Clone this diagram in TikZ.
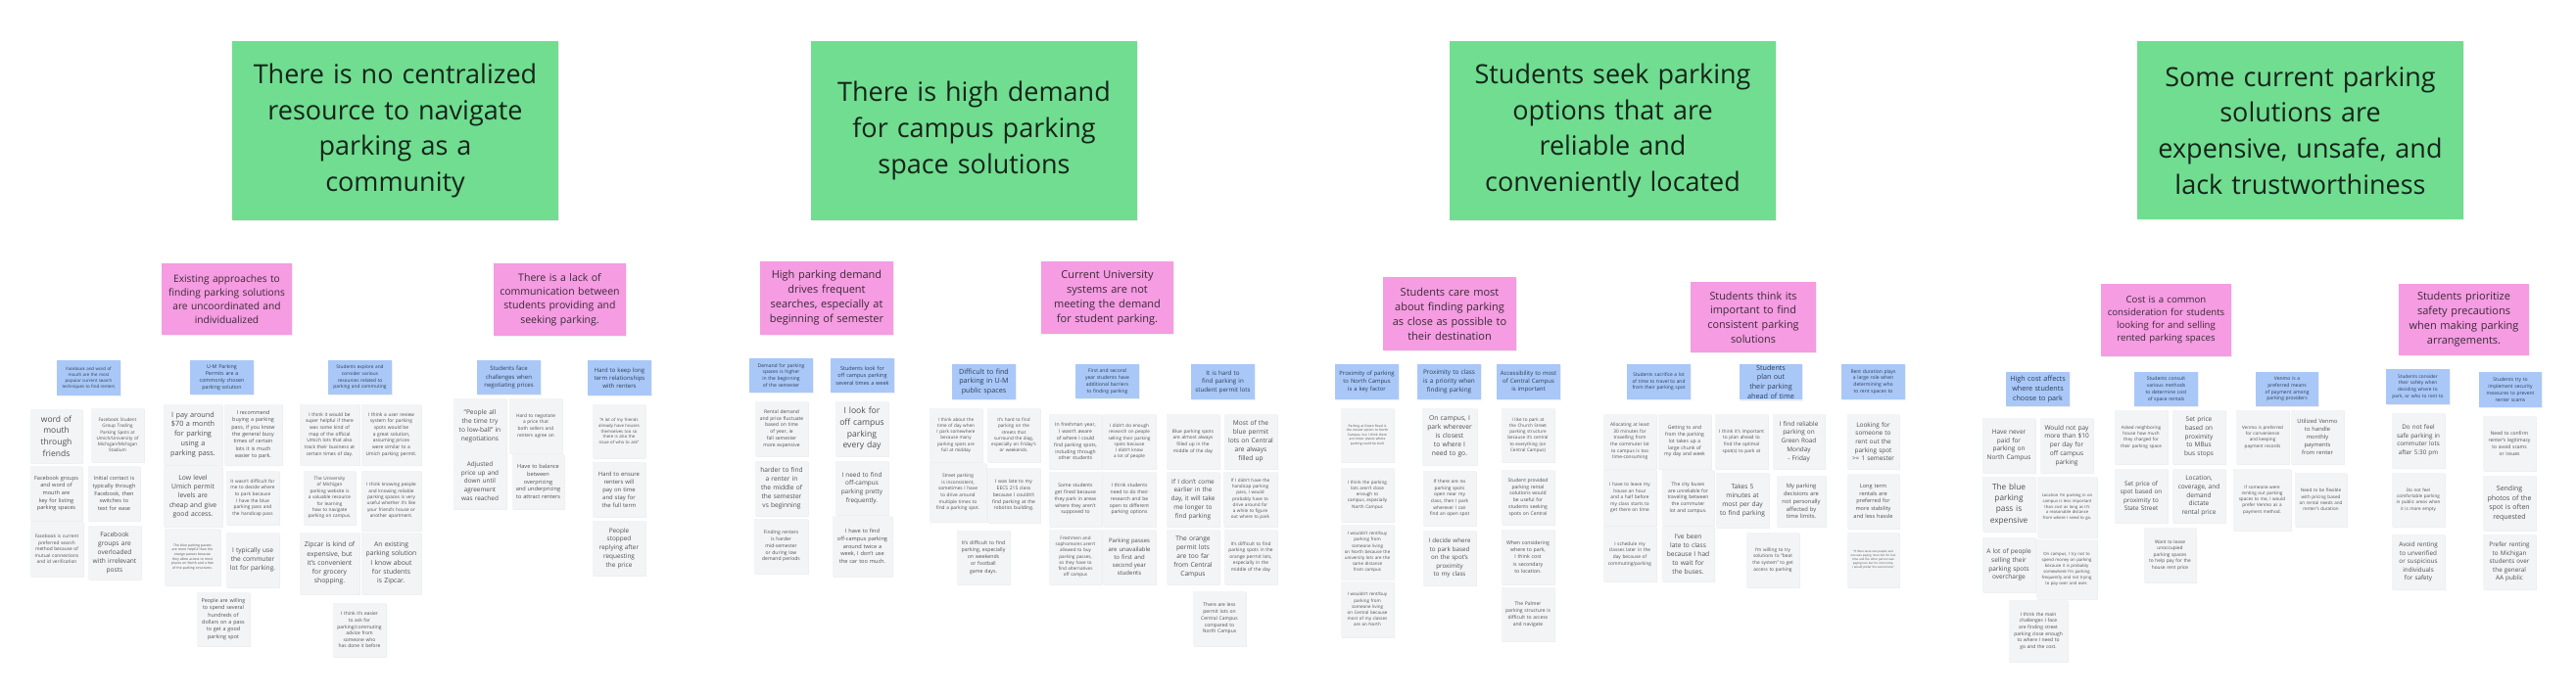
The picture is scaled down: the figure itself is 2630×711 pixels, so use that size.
\documentclass[tikz,border=0pt]{standalone}
\usepackage{fontspec}
\setmainfont{Open Sans}
\usetikzlibrary{shadows}
\definecolor{hgreen}{HTML}{70DD90}
\definecolor{hpink}{HTML}{F59CE2}
\definecolor{hblue}{HTML}{A9C8F7}
\definecolor{notegray}{HTML}{F3F4F6}
\definecolor{notetext}{HTML}{505050}
\definecolor{bluetext}{HTML}{2F3D57}
\definecolor{pinktext}{HTML}{3A2A36}
\definecolor{greentext}{HTML}{15241A}
\hyphenpenalty=10000
\exhyphenpenalty=10000
\newcommand\fz[1]{\fontsize{#1}{\fpeval{round(1.36*#1,2)}}\selectfont}
\tikzset{
  sticky/.style={draw=none, align=center, inner xsep=3.5pt, inner ysep=1pt,
    drop shadow={shadow xshift=0.5pt, shadow yshift=-1.2pt, opacity=0.12}},
  notebox/.style={sticky, fill=notegray, text=notetext},
  bluebox/.style={sticky, fill=hblue, text=bluetext},
  pinkbox/.style={sticky, fill=hpink, text=pinktext},
  greenbox/.style={sticky, fill=hgreen, text=greentext},
}
% style, name, x1, y1, x2, y2, font size, text
\newcommand\stick[8]{%
  \node[#1, minimum width=\fpeval{#5-#3}pt, minimum height=\fpeval{#6-#4}pt,
    text width=\fpeval{#5-#3-7}pt, font=\fz{#7}]
    (#2) at (\fpeval{(#3+#5)/2}pt,\fpeval{-(#4+#6)/2}pt) {#8};}
\newcommand\nt[7]{\stick{notebox}{#1}{#2}{#3}{#4}{#5}{#6}{#7}}
\newcommand\bl[7]{\stick{bluebox}{#1}{#2}{#3}{#4}{#5}{#6}{#7}}
\begin{document}
\begin{tikzpicture}
\useasboundingbox[fill=white] (0pt,0pt) rectangle (2630pt,-711pt);

% ---------- green themes ----------
\stick{greenbox}{G1}{237}{42}{570}{225}{27}{There is no centralized\\resource to navigate\\parking as a\\community}
\stick{greenbox}{G2}{828}{42}{1161}{225}{27}{There is high demand\\for campus parking\\space solutions}
\stick{greenbox}{G3}{1480}{42}{1813}{225}{27}{Students seek parking\\options that are\\reliable and\\conveniently located}
\stick{greenbox}{G4}{2182}{42}{2515}{224}{27}{Some current parking\\solutions are\\expensive, unsafe, and\\lack trustworthiness}

% ---------- pink sub-themes ----------
\stick{pinkbox}{P1}{165}{269}{298}{342}{10.2}{Existing approaches to\\finding parking solutions\\are uncoordinated and\\individualized}
\stick{pinkbox}{P2}{504}{269}{639}{343}{10.5}{There is a lack of\\communication between\\students providing and\\seeking parking.}
\stick{pinkbox}{P3}{776}{267}{912}{342}{11}{High parking demand\\drives frequent\\searches, especially at\\beginning of semester}
\stick{pinkbox}{P4}{1063}{267}{1198}{341}{11}{Current University\\systems are not\\meeting the demand\\for student parking.}
\stick{pinkbox}{P5}{1412}{283}{1548}{358}{11}{Students care most\\about finding parking\\as close as possible to\\their destination}
\stick{pinkbox}{P6}{1726}{288}{1854}{360}{10.8}{Students think its\\important to find\\consistent parking\\solutions}
\stick{pinkbox}{P7}{2145}{290}{2278}{364}{9.6}{Cost is a common\\consideration for students\\looking for and selling\\rented parking spaces}
\stick{pinkbox}{P8}{2449}{290}{2582}{363}{11}{Students prioritize\\safety precautions\\when making parking\\arrangements.}

% ---------- blue clusters ----------
\bl{B1}{58}{368}{123}{404}{4.4}{Facebook and word of mouth are the most popular current search techniques to find renters}
\bl{B2}{194}{368}{259}{403}{5.3}{U-M Parking Permits are a commonly chosen parking solution}
\bl{B3}{335}{368}{400}{403}{4.8}{Students explore and consider various resources related to parking and commuting}
\bl{B4}{487}{368}{552}{403}{6}{Students face challenges when negotiating prices}
\bl{B5}{600}{368}{665}{404}{6}{Hard to keep long term relationships with renters}
\bl{B6}{765}{366}{830}{401}{5}{Demand for parking spaces is higher in the beginning of the semester}
\bl{B7}{848}{366}{913}{401}{5.5}{Students look for off campus parking several times a week}
\bl{B8}{972}{372}{1037}{408}{7.2}{Difficult to find parking in U-M public spaces}
\bl{B9}{1098}{372}{1163}{407}{5}{First and second year students have additional barriers to finding parking}
\bl{B10}{1216}{372}{1281}{408}{6.2}{It is hard to find parking in student permit lots}
\bl{B11}{1363}{372}{1428}{408}{5.9}{Proximity of parking to North Campus is a key factor}
\bl{B12}{1447}{372}{1512}{408}{6.4}{Proximity to class is a priority when finding parking}
\bl{B13}{1528}{372}{1593}{408}{6}{Accessibility to most of Central Campus is important}
\bl{B14}{1661}{372}{1726}{408}{4.9}{Students sacrifice a lot of time to travel to and from their parking spot}
\bl{B15}{1776}{372}{1840}{408}{7.2}{Students plan out their parking ahead of time}
\bl{B16}{1880}{372}{1945}{408}{5}{Rent duration plays a large role when determining who to rent spaces to}
\bl{B17}{2048}{380}{2113}{415}{7.2}{High cost affects where students choose to park}
\bl{B18}{2179}{380}{2244}{415}{5}{Students consult various methods to determine cost of space rentals}
\bl{B19}{2303}{380}{2367}{415}{5}{Venmo is a preferred means of payment among parking providers}
\bl{B20}{2436}{377}{2501}{413}{4.8}{Students consider their safety when deciding where to park, or who to rent to}
\bl{B21}{2531}{380}{2595}{416}{5}{Students try to implement security measures to prevent renter scams}

% ---------- notes ----------
\nt{a1}{31}{418}{84}{473}{8.5}{word of mouth through friends}
\nt{a2}{93}{417}{147}{472}{4.6}{Facebook Student Group Trading Parking Spots at Umich/University of Michigan/Michigan Stadium}
\nt{a3}{31}{476}{84}{532}{5.6}{Facebook groups and word of mouth are key for listing parking spaces}
\nt{a4}{90}{476}{143}{532}{5.6}{Initial contact is typically through Facebook, then switches to text for ease}
\nt{a5}{31}{533}{85}{589}{4.8}{Facebook is current preferred search method because of mutual connections and id verification}
\nt{a6}{90}{537}{144}{592}{6.6}{Facebook groups are overloaded with irrelevant posts}

\nt{b1}{167}{413}{227}{475}{7.3}{I pay around \$70 a month for parking using a parking pass.}
\nt{b2}{229}{413}{288}{475}{5.4}{I recommend buying a parking pass, if you know the general busy times of certain lots it is much easier to park.}
\nt{b3}{167}{476}{227}{538}{6.8}{Low level Umich permit levels are cheap and give good access.}
\nt{b4}{231}{481}{285}{536}{4.8}{It wasn't difficult for me to decide where to park because I have the blue parking pass and the handicap pass}
\nt{b5}{168}{540}{225}{598}{3.4}{The blue parking passes are more helpful than the orange passes because they allow access to most places on North and a few of the parking structures.}
\nt{b6}{231}{544}{285}{600}{6.6}{I typically use the commuter lot for parking.}
\nt{b7}{201}{605}{255}{660}{5.4}{People are willing to spend several hundreds of dollars on a pass to get a good parking spot}

\nt{c1}{306}{413}{367}{475}{4.9}{I think it would be super helpful if there was some kind of map of the official Umich lots that also track their business at certain times of day.}
\nt{c2}{369}{413}{430}{475}{4.9}{I think a user review system for parking spots would be a great solution, assuming prices were similar to a Umich parking permit.}
\nt{c3}{310}{481}{363}{536}{4.7}{The University of Michigan parking website is a valuable resource for learning how to navigate parking on campus.}
\nt{c4}{369}{481}{430}{542}{4.7}{I think knowing people and knowing reliable parking spaces is very useful whether it's like your friend's house or another apartment.}
\nt{c5}{306}{544}{367}{607}{6.8}{Zipcar is kind of expensive, but it's convenient for grocery shopping.}
\nt{c6}{369}{544}{430}{607}{6.8}{An existing parking solution I know about for students is Zipcar.}
\nt{c7}{340}{616}{394}{671}{4.9}{I think it's easier to ask for parking/commuting advice from someone who has done it before}

\nt{d1}{463}{407}{517}{463}{6.6}{“People all the time try to low-ball” in negotiations}
\nt{d2}{520}{407}{574}{463}{4.8}{Hard to negotiate a price that both sellers and renters agree on}
\nt{d3}{463}{463}{517}{520}{6.4}{Adjusted price up and down until agreement was reached}
\nt{d4}{523}{464}{576}{520}{5.6}{Have to balance between overpricing and underpricing to attract renters}

\nt{e1}{605}{413}{659}{468}{4.3}{“A lot of my friends already have houses themselves too so there is also the issue of who to ask”}
\nt{e2}{605}{472}{659}{528}{5.9}{Hard to ensure renters will pay on time and stay for the full term}
\nt{e3}{605}{532}{659}{588}{6.4}{People stopped replying after requesting the price}

\nt{f1}{771}{410}{825}{466}{5}{Rental demand and price fluctuate based on time of year, ie fall semester more expensive}
\nt{f2}{771}{471}{825}{527}{6.6}{harder to find a renter in the middle of the semester vs beginning}
\nt{f3}{770}{530}{825}{586}{5}{Finding renters is harder mid-semester or during low demand periods}

\nt{g1}{853}{410}{907}{466}{8.6}{I look for off campus parking every day}
\nt{g2}{853}{471}{907}{526}{6.4}{I need to find off-campus parking pretty frequently.}
\nt{g3}{850}{527}{911}{589}{5.6}{I have to find off-campus parking around twice a week, I don't use the car too much.}

\nt{h1}{949}{417}{1003}{472}{4.6}{I think about the time of day when I park somewhere because many parking spots are full at midday}
\nt{h2}{1008}{417}{1062}{472}{4.6}{It's hard to find parking on the streets that surround the diag, especially on Friday's or weekends.}
\nt{h3}{949}{473}{1007}{533}{4.8}{Street parking is inconsistent, sometimes I have to drive around multiple times to find a parking spot.}
\nt{h4}{1008}{478}{1062}{534}{5}{I was late to my EECS 215 class because I couldn't find parking at the robotics building.}
\nt{h5}{977}{542}{1031}{597}{5.2}{It's difficult to find parking, especially on weekends or football game days.}

\nt{i1}{1071}{423}{1125}{479}{5}{In freshman year, I wasn't aware of where I could find parking spots, including through other students}
\nt{i2}{1126}{423}{1180}{479}{4.6}{I didn't do enough research on people selling their parking spots because I didn't know a lot of people}
\nt{i3}{1071}{482}{1125}{538}{5}{Some students get fined because they park in areas where they aren't supposed to}
\nt{i4}{1126}{482}{1180}{538}{5}{I think students need to do their research and be open to different parking options}
\nt{i5}{1071}{541}{1125}{597}{4.6}{Freshmen and sophomores aren't allowed to buy parking passes, so they have to find alternatives off campus}
\nt{i6}{1126}{541}{1180}{597}{6}{Parking passes are unavailable to first and second year students}

\nt{j1}{1191}{423}{1245}{479}{4.8}{Blue parking spots are almost always filled up in the middle of the day}
\nt{j2}{1250}{423}{1304}{479}{6.6}{Most of the blue permit lots on Central are always filled up}
\nt{j3}{1191}{482}{1245}{538}{6.4}{If I don't come earlier in the day, it will take me longer to find parking}
\nt{j4}{1249}{482}{1304}{538}{4.6}{If I didn't have the handicap parking pass, I would probably have to drive around for a while to figure out where to park}
\nt{j5}{1191}{541}{1245}{597}{6.6}{The orange permit lots are too far from Central Campus}
\nt{j6}{1250}{541}{1304}{597}{4.8}{It's difficult to find parking spots in the orange permit lots, especially in the middle of the day}
\nt{j7}{1218}{604}{1272}{660}{5}{There are less permit lots on Central Campus compared to North Campus}

\nt{k1}{1369}{417}{1423}{472}{3.3}{Parking at Green Road is the closest option to North Campus, but I think there are closer places where parking could be built}
\nt{k2}{1369}{478}{1423}{533}{4.6}{I think the parking lots aren't close enough to campus, especially North Campus}
\nt{k3}{1369}{536}{1423}{592}{4.5}{I wouldn't rent/buy parking from someone living on North because the university lots are the same distance from campus}
\nt{k4}{1369}{594}{1423}{651}{4.5}{I wouldn't rent/buy parking from someone living on Central because most of my classes are on North}

\nt{l1}{1452}{417}{1508}{475}{6.7}{On campus, I park wherever is closest to where I need to go.}
\nt{l2}{1453}{481}{1507}{537}{4.8}{If there are no parking spots open near my class, then I park wherever I can find an open spot}
\nt{l3}{1453}{542}{1507}{598}{6.2}{I decide where to park based on the spot's proximity to my class}

\nt{m1}{1533}{417}{1587}{472}{4.6}{I like to park at the Church Street parking structure because it's central to everything (on Central Campus)}
\nt{m2}{1533}{480}{1587}{536}{5}{Student provided parking rental solutions would be useful for students seeking spots on Central}
\nt{m3}{1533}{541}{1587}{597}{5.2}{When considering where to park, I think cost is secondary to location.}
\nt{m4}{1533}{600}{1587}{655}{5}{The Palmer parking structure is difficult to access and navigate}

\nt{n1}{1637}{423}{1691}{479}{4.8}{Allocating at least 30 minutes for travelling from the commuter lot to campus is too time-consuming}
\nt{n2}{1693}{423}{1747}{479}{5}{Getting to and from the parking lot takes up a large chunk of my day and week}
\nt{n3}{1637}{480}{1691}{537}{4.8}{I have to leave my house an hour and a half before my class starts to get there on time}
\nt{n4}{1697}{480}{1750}{537}{5}{The city buses are unreliable for traveling between the commuter lot and campus.}
\nt{n5}{1637}{538}{1691}{594}{4.8}{I schedule my classes later in the day because of commuting/parking}
\nt{n6}{1697}{538}{1750}{594}{6.6}{I've been late to class because I had to wait for the buses.}

\nt{o1}{1751}{423}{1805}{479}{4.8}{I think it's important to plan ahead to find the optimal spot(s) to park at}
\nt{o2}{1810}{423}{1863}{479}{6.4}{I find reliable parking on Green Road Monday - Friday}
\nt{o3}{1752}{483}{1806}{539}{6.6}{Takes 5 minutes at most per day to find parking}
\nt{o4}{1814}{486}{1864}{538}{5.8}{My parking decisions are not personally affected by time limits.}
\nt{o5}{1783}{544}{1837}{600}{4.8}{I'm willing to try solutions to “beat the system” to get access to parking}

\nt{p1}{1886}{423}{1939}{479}{6.4}{Looking for someone to rent out the parking spot >= 1 semester}
\nt{p2}{1886}{484}{1939}{540}{5.6}{Long term rentals are preferred for more stability and less hassle}
\nt{p3}{1886}{544}{1939}{600}{2.9}{“If there were two people and one was paying more but for less time and the other person was paying less but for more time, I would prefer the second one”}

\nt{q1}{2024}{427}{2078}{483}{6.5}{Have never paid for parking on North Campus}
\nt{q2}{2083}{427}{2137}{483}{6.5}{Would not pay more than \$10 per day for off campus parking}
\nt{q3}{2024}{487}{2078}{543}{8.3}{The blue parking pass is expensive}
\nt{q4}{2080}{487}{2141}{549}{4.2}{Location I'm parking in on campus is less important than cost as long as it's a reasonable distance from where I need to go.}
\nt{q5}{2024}{549}{2078}{605}{6.5}{A lot of people selling their parking spots overcharge}
\nt{q6}{2079}{551}{2141}{612}{4.3}{On campus, I try not to spend money on parking because it is probably somewhere I'm parking frequently and not trying to pay over and over.}
\nt{q7}{2051}{613}{2111}{676}{4.9}{I think the main challenges I face are finding street parking close enough to where I need to go and the cost.}

\nt{r1}{2159}{419}{2213}{474}{4.6}{Asked neighboring house how much they charged for their parking space}
\nt{r2}{2218}{419}{2272}{474}{6.5}{Set price based on proximity to MBus bus stops}
\nt{r3}{2159}{479}{2213}{534}{6.3}{Set price of spot based on proximity to State Street}
\nt{r4}{2218}{479}{2272}{534}{6.5}{Location, coverage, and demand dictate rental price}
\nt{r5}{2189}{539}{2242}{595}{4.8}{Want to lease unoccupied parking spaces to help pay for the house rent price}

\nt{s1}{2283}{419}{2337}{474}{4.6}{Venmo is preferred for convenience and keeping payment records}
\nt{s2}{2339}{419}{2393}{474}{5.8}{Utilized Venmo to handle monthly payments from renter}
\nt{s3}{2280}{479}{2339}{542}{4.6}{If someone were renting out parking spaces to me, I would prefer Venmo as a payment method.}
\nt{s4}{2343}{483}{2396}{538}{4.6}{Need to be flexible with pricing based on rental needs and renter's duration}

\nt{t1}{2442}{422}{2496}{478}{6.3}{Do not feel safe parking in commuter lots after 5:30 pm}
\nt{t2}{2442}{483}{2496}{538}{4.6}{Do not feel comfortable parking in public areas when it is more empty}
\nt{t3}{2442}{546}{2496}{602}{6.3}{Avoid renting to unverified or suspicious individuals for safety}

\nt{u1}{2535}{425}{2589}{481}{5}{Need to confirm renter's legitimacy to avoid scams or issues}
\nt{u2}{2535}{486}{2589}{542}{7}{Sending photos of the spot is often requested}
\nt{u3}{2535}{546}{2589}{602}{6.3}{Prefer renting to Michigan students over the general AA public}
\end{tikzpicture}
\end{document}
